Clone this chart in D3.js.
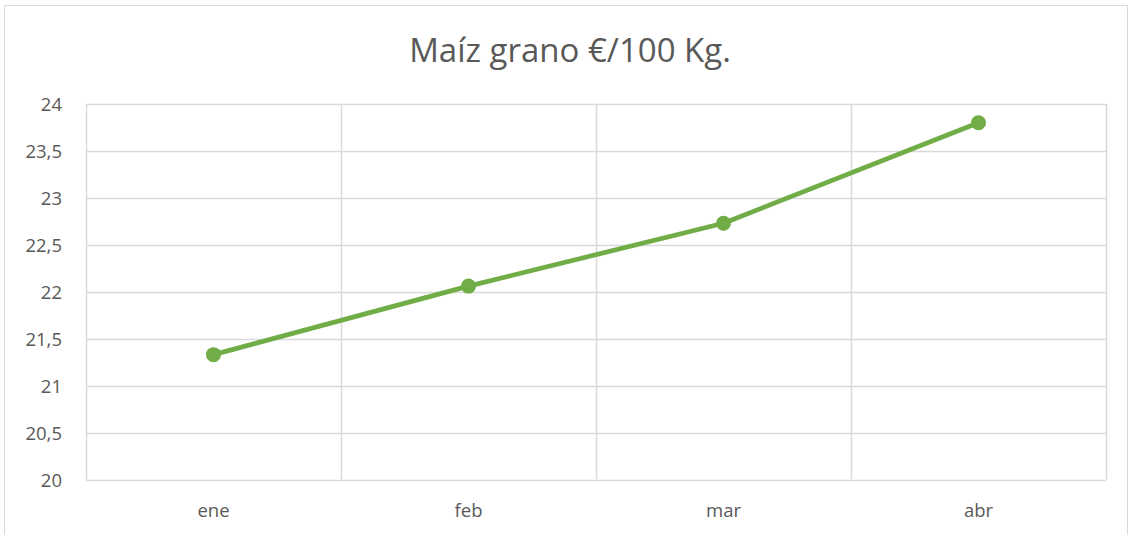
<!DOCTYPE html>
<html>
<head>
<meta charset="utf-8">
<script src="https://cdn.jsdelivr.net/npm/d3@7"></script>
<style>
	body { margin:0; background:#fff; }
	svg { display:block; font-family:"Open Sans","Noto Sans",sans-serif; }
</style>
</head>
<body>
<svg id="chart" width="1131" height="535"></svg>
<script>
var months = ['ene','feb','mar','abr'],
	prices = [21.33,22.06,22.73,23.80],
	y_ticks = [20,20.5,21,21.5,22,22.5,23,23.5,24],
	title = 'Maíz grano €/100 Kg.'

var svg = d3.select('#chart'),
	margin = {top:104, right:25, bottom:55, left:86},
	width = 1131,
	height = 535

// outer frame
svg.append('rect')
	.attr('x',4.5)
	.attr('y',5.5)
	.attr('width',1123)
	.attr('height',540)
	.attr('fill','#fff')
	.attr('stroke','#d9d9d9')

var x = d3.scaleBand()
	.domain(months)
	.range([margin.left, width - margin.right])
	.paddingInner(0)
	.paddingOuter(0)

var y = d3.scaleLinear()
	.domain([20,24])
	.range([height - margin.bottom - 0.5, margin.top])

// horizontal grid
svg.append('g')
	.selectAll('line')
	.data(y_ticks)
	.enter().append('line')
	.attr('x1',margin.left)
	.attr('x2',width - margin.right)
	.attr('y1',function(d){ return Math.round(y(d)) + 0.5 })
	.attr('y2',function(d){ return Math.round(y(d)) + 0.5 })
	.style('stroke','#d9d9d9')
	.style('stroke-width',1.5)

// vertical grid (category boundaries)
var bounds = months.map(function(m){ return x(m) }).concat([x.range()[1]])
svg.append('g')
	.selectAll('line')
	.data(bounds)
	.enter().append('line')
	.attr('x1',function(d){ return Math.round(d) + 0.5 })
	.attr('x2',function(d){ return Math.round(d) + 0.5 })
	.attr('y1',y(24))
	.attr('y2',y(20))
	.style('stroke','#d9d9d9')
	.style('stroke-width',1.5)

// y labels
svg.append('g')
	.selectAll('text')
	.data(y_ticks)
	.enter().append('text')
	.attr('x',margin.left - 24)
	.attr('y',function(d){ return y(d) + 7 })
	.attr('text-anchor','end')
	.style('font-size','18.5px')
	.style('fill','#595959')
	.text(function(d){ return String(d).replace('.',',') })

// x labels
svg.append('g')
	.selectAll('text')
	.data(months)
	.enter().append('text')
	.attr('x',function(d){ return x(d) + x.bandwidth()/2 })
	.attr('y',y(20) + 37)
	.attr('text-anchor','middle')
	.style('font-size','18.5px')
	.style('fill','#595959')
	.text(function(d){ return d })

// title
svg.append('text')
	.attr('x',570)
	.attr('y',62)
	.attr('text-anchor','middle')
	.style('font-size','33px')
	.style('fill','#595959')
	.text(title)

var line = d3.line()
	.x(function(d,i){ return x(months[i]) + x.bandwidth()/2 })
	.y(function(d){ return y(d) })

svg.append('path')
	.datum(prices)
	.attr('d',line)
	.attr('fill','none')
	.style('stroke','#70ad47')
	.style('stroke-width',4.75)
	.style('stroke-linejoin','round')
	.style('stroke-linecap','round')

svg.append('g')
	.selectAll('circle')
	.data(prices)
	.enter().append('circle')
	.attr('cx',function(d,i){ return x(months[i]) + x.bandwidth()/2 })
	.attr('cy',function(d){ return y(d) })
	.attr('r',7.5)
	.style('fill','#70ad47')
</script>
</body>
</html>
